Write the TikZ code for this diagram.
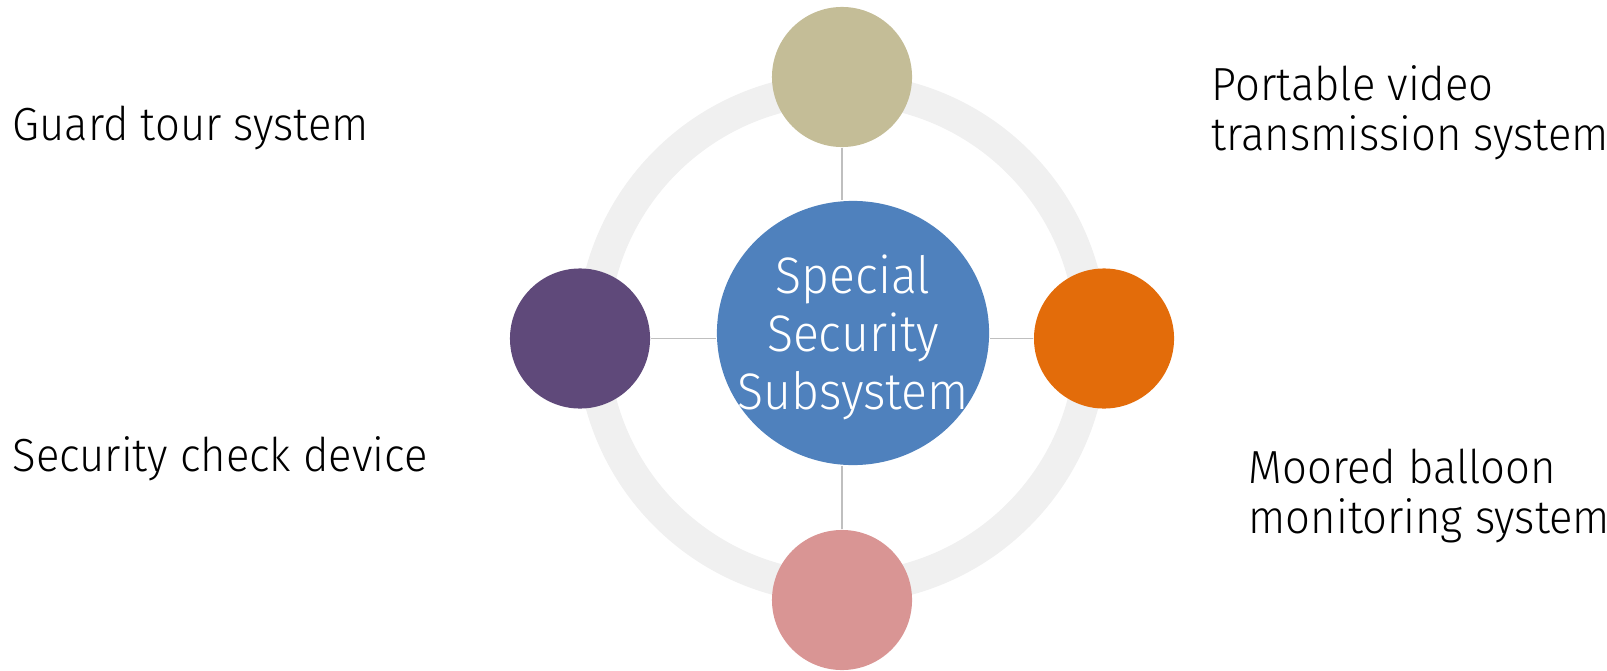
\documentclass[tikz,border=0pt]{standalone}
\usepackage{fontspec}
\setmainfont{Fira Sans}[UprightFont=* Light,FakeStretch=0.94]
\usetikzlibrary{shapes.geometric}
\definecolor{ringgray}{HTML}{F0F0F0}
\definecolor{linkgray}{HTML}{BFBFBF}
\definecolor{hubblue}{HTML}{4F81BD}
\definecolor{tanbeige}{HTML}{C4BD97}
\definecolor{plum}{HTML}{5F497A}
\definecolor{amber}{HTML}{E36C0A}
\definecolor{rose}{HTML}{D99594}
\begin{document}
\begin{tikzpicture}[x=0.01cm,y=-0.01cm,
  dot/.style={circle,minimum size=1.4cm,inner sep=0pt},
  link/.style={draw=linkgray,line width=0.5pt},
  itemtext/.style={anchor=base west,align=left,inner sep=0pt,font=\fontsize{13.2}{14.2}\selectfont}]
\useasboundingbox (0,0) rectangle (1607,670);
% ring behind the four satellites
\draw[ringgray,line width=0.32cm] (842,338.5) circle [radius=249.5];
\node[dot,fill=tanbeige] (top) at (842,77) {};
\node[dot,fill=plum] (left) at (580,338.5) {};
\node[dot,fill=amber] (right) at (1104,338.5) {};
\node[dot,fill=rose] (bottom) at (842,600) {};
\node[ellipse,fill=hubblue,minimum width=2.72cm,minimum height=2.64cm,inner sep=0pt] (hub) at (853,333) {};
\node[text=white,align=center,inner sep=0pt,font=\fontsize{14.6}{16.5}\selectfont] (hubtext)
  at ([yshift=-0.04cm]hub.center) {Special\\Security\\Subsystem};
% spokes
\draw[link] (top.south) -- (top.south |- hub.north);
\draw[link] (bottom.north) -- (bottom.north |- hub.south);
\draw[link] (left.east) -- (left.east -| hub.west);
\draw[link] (right.west) -- (right.west -| hub.east);
% labels
\node[itemtext] (guard) at (12,141) {Guard tour system};
\node[itemtext] (check) at (12,471) {Security check device};
\node[itemtext] (video) at (1211,150) {Portable video\\transmission system};
\node[itemtext] (balloon) at (1248,533) {Moored balloon\\monitoring system};
\end{tikzpicture}
\end{document}
